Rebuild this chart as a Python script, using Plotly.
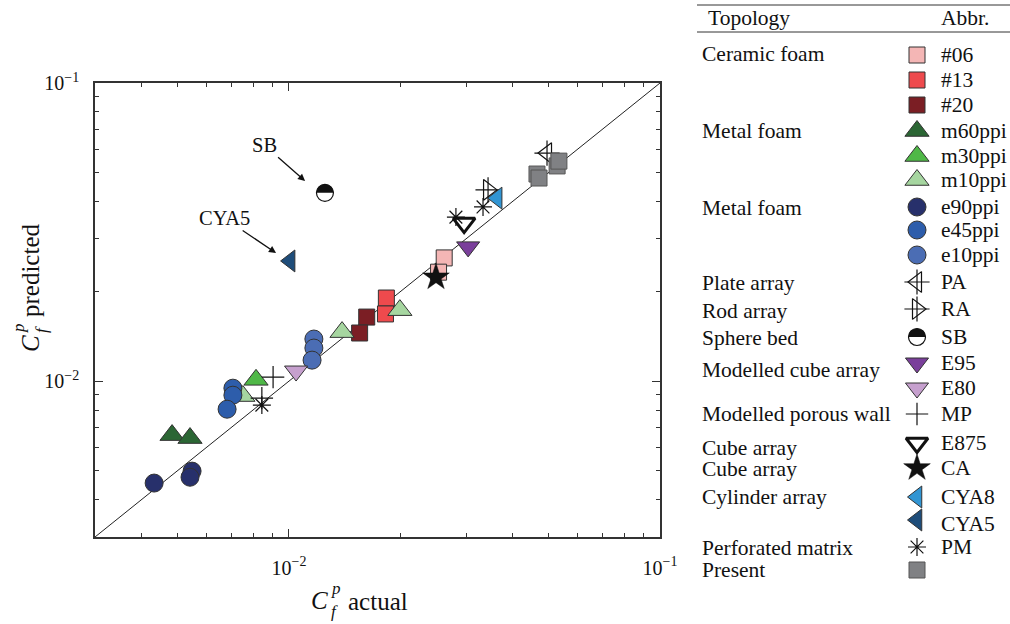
import math
import plotly.graph_objects as go

W, H = 1010, 624
FONT = "Liberation Serif"

# C_f^p actual (x) and predicted (y)
c06_x = [0.0262, 0.0253]
c06_y = [0.0259, 0.0232]
c13_x = [0.0183, 0.0182]
c13_y = [0.0190, 0.0168]
c20_x = [0.0162, 0.0155]
c20_y = [0.0164, 0.0145]
m60_x = [0.00484, 0.00541]
m60_y = [0.00659, 0.00644]
m30_x = [0.00815]
m30_y = [0.0101]
m10_x = [0.0199, 0.0139, 0.00751]
m10_y = [0.0173, 0.0146, 0.00891]
e90_x = [0.00433, 0.00548, 0.00541]
e90_y = [0.00455, 0.00499, 0.00476]
e45_x = [0.00706, 0.00706, 0.00681]
e45_y = [0.00947, 0.00897, 0.00805]
e10_x = [0.01167, 0.01167, 0.01154]
e10_y = [0.01384, 0.01291, 0.01176]
pa_x = [0.0496]
pa_y = [0.0582]
ra_x = [0.0344]
ra_y = [0.0438]
sb_x = [0.0125]
sb_y = [0.0428]
e95_x = [0.0304]
e95_y = [0.0282]
e80_x = [0.01045]
e80_y = [0.01081]
mp_x = [0.00906, 0.00845]
mp_y = [0.01031, 0.00877]
e875_x = [0.02965]
e875_y = [0.0339]
ca_x = [0.0249]
ca_y = [0.0223]
cya8_x = [0.0364]
cya8_y = [0.0411]
cya5_x = [0.01007]
cya5_y = [0.0253]
pm_x = [0.00845, 0.02818, 0.03334]
pm_y = [0.00831, 0.0355, 0.0384]
present_x = [0.0466, 0.0472, 0.0528, 0.0534]
present_y = [0.0495, 0.0480, 0.0527, 0.0547]

ax_range = [0.003, 0.1]
major_ticks = [0.01, 0.1]
major_text = ["10<sup>\u22122</sup>", "10<sup>\u22121</sup>"]
minor_ticks = [k * 10.0 ** e for e in (-3, -2) for k in range(2, 10)]

edge = dict(color="#333333", width=1)


def mk(symbol, color, size, line=None):
    return dict(symbol=symbol, color=color, size=size, line=line or edge)


open_line = dict(color="#111111", width=1.2)
styles = {
    "#06": [mk("square", "#f4b6b5", 16)],
    "#13": [mk("square", "#ee4a4d", 16)],
    "#20": [mk("square", "#7b1e24", 16)],
    "m60ppi": [mk("triangle-up", "#2b6634", 21)],
    "m30ppi": [mk("triangle-up", "#4fb847", 21)],
    "m10ppi": [mk("triangle-up", "#a6d6a0", 21)],
    "e90ppi": [mk("circle", "#27306b", 18)],
    "e45ppi": [mk("circle", "#2d5dab", 18)],
    "e10ppi": [mk("circle", "#4b6db4", 18)],
    "PA": [mk("triangle-left-open", "#111111", 18, open_line),
           mk("cross-thin-open", "#111111", 18, open_line)],
    "RA": [mk("triangle-right-open", "#111111", 18, open_line),
           mk("cross-thin-open", "#111111", 18, open_line)],
    "SB": [mk("circle", "white", 17, dict(color="#111111", width=1.2))],
    "E95": [mk("triangle-down", "#7a3f9b", 20)],
    "E80": [mk("triangle-down", "#c6a0ce", 20)],
    "MP": [mk("cross-thin-open", "#111111", 16, open_line)],
    "E875": [mk("triangle-down-open", "#111111", 19, dict(color="#111111", width=3))],
    "CA": [mk("star", "#111111", 20, dict(color="#111111", width=0.5))],
    "CYA8": [mk("triangle-left", "#3195d3", 19)],
    "CYA5": [mk("triangle-left", "#1e4d7a", 19)],
    "PM": [mk("asterisk-open", "#111111", 15, open_line)],
    "Present": [mk("square", "#808184", 16, dict(color="#555555", width=1))],
}

series = [
    ("#06", c06_x, c06_y), ("#13", c13_x, c13_y), ("#20", c20_x, c20_y),
    ("m60ppi", m60_x, m60_y), ("m30ppi", m30_x, m30_y), ("m10ppi", m10_x, m10_y),
    ("e90ppi", e90_x, e90_y), ("e45ppi", e45_x, e45_y), ("e10ppi", e10_x, e10_y),
    ("PA", pa_x, pa_y), ("RA", ra_x, ra_y), ("SB", sb_x, sb_y),
    ("E95", e95_x, e95_y), ("E80", e80_x, e80_y), ("MP", mp_x, mp_y),
    ("E875", e875_x, e875_y), ("CA", ca_x, ca_y), ("CYA8", cya8_x, cya8_y),
    ("CYA5", cya5_x, cya5_y), ("PM", pm_x, pm_y), ("Present", present_x, present_y),
]

# legend table (pixel rows)
legend_rows = {
    "#06": 55, "#13": 80, "#20": 105, "m60ppi": 131, "m30ppi": 156,
    "m10ppi": 180, "e90ppi": 207, "e45ppi": 230, "e10ppi": 255, "PA": 282,
    "RA": 309, "SB": 337, "E95": 363, "E80": 388, "MP": 414, "E875": 443,
    "CA": 468, "CYA8": 497, "CYA5": 520, "PM": 547, "Present": 570,
}
abbr_text_y = {"CYA5": 524}
topologies = [
    ("Ceramic foam", 54), ("Metal foam", 131), ("Metal foam", 208),
    ("Plate array", 283), ("Rod array", 311), ("Sphere bed", 338),
    ("Modelled cube array", 370), ("Modelled porous wall", 414),
    ("Cube array", 448), ("Cube array", 469), ("Cylinder array", 497),
    ("Perforated matrix", 548), ("Present", 570),
]

fig = go.Figure()

# 1:1 line
fig.add_trace(go.Scatter(x=ax_range, y=ax_range, mode="lines",
                         line=dict(color="#222222", width=1), hoverinfo="skip"))

sym_x = 917
for name, xs, ys in series:
    for st in styles[name]:
        fig.add_trace(go.Scatter(x=xs, y=ys, mode="markers", marker=st, name=name))
        fig.add_trace(go.Scatter(x=[sym_x], y=[legend_rows[name]], mode="markers",
                                 marker=st, xaxis="x2", yaxis="y2", cliponaxis=False))


# half-filled sphere bed symbol (top half black)
def half_top(r):
    k = 0.5523 * r
    return (f"M {-r},0 C {-r},{k} {-k},{r} 0,{r} C {k},{r} {r},{k} {r},0 Z")


shapes = [
    dict(type="path", xref="x", yref="y", xsizemode="pixel", ysizemode="pixel",
         xanchor=sb_x[0], yanchor=sb_y[0], path=half_top(8.5),
         fillcolor="#111111", line=dict(width=0)),
    dict(type="path", xref="x2", yref="y2", xsizemode="pixel", ysizemode="pixel",
         xanchor=sym_x, yanchor=legend_rows["SB"], path=half_top(8.5),
         fillcolor="#111111", line=dict(width=0)),
    dict(type="line", xref="x2", yref="y2", x0=697, x1=1010, y0=5, y1=5,
         line=dict(color="#333333", width=1)),
    dict(type="line", xref="x2", yref="y2", x0=697, x1=1010, y0=32, y1=32,
         line=dict(color="#333333", width=1)),
]

tf = dict(family=FONT, size=21.5, color="#111111")
ann = [
    dict(x=706, y=18, text="Topology", xanchor="left"),
    dict(x=991, y=18, text="Abbr.", xanchor="right"),
]
for label, yy in topologies:
    ann.append(dict(x=700, y=yy, text=label, xanchor="left"))
for name, _, _ in series:
    if name == "Present":
        continue
    ann.append(dict(x=939, y=abbr_text_y.get(name, legend_rows[name]), text=name,
                    xanchor="left"))

tfont = dict(family=FONT, size=25, color="#111111")
sfont = dict(family=FONT, size=17, color="#111111")
title_parts = [
    dict(x=319, y=600, text="<i>C</i>", font=tfont),
    dict(x=336, y=588, text="<i>p</i>", font=sfont),
    dict(x=334, y=611, text="<i>f</i>", font=sfont),
    dict(x=346, y=601, text="actual", font=tfont, xanchor="left"),
    dict(x=30, y=344, text="<i>C</i>", font=tfont, textangle=-90),
    dict(x=18, y=328, text="<i>p</i>", font=sfont, textangle=-90),
    dict(x=41, y=330, text="<i>f</i>", font=sfont, textangle=-90),
    dict(x=30, y=319, text="predicted", font=tfont, textangle=-90, yanchor="bottom"),
]
annotations = []
for a in ann:
    a.update(xref="x2", yref="y2", showarrow=False, font=tf)
    annotations.append(a)
for a in title_parts:
    a.update(xref="x2", yref="y2", showarrow=False)
    annotations.append(a)

# arrows pointing at the outliers (annotation coords on log axes are log10)
for label, px, py, dx, dy in [("SB", 0.01105, 0.0469, -41, -36),
                              ("CYA5", 0.00923, 0.0269, -52, -35)]:
    annotations.append(dict(x=math.log10(px), y=math.log10(py), xref="x", yref="y",
                            text=label, showarrow=True, ax=dx, ay=dy,
                            arrowhead=2, arrowsize=1.1, arrowwidth=1.3,
                            arrowcolor="#111111", font=dict(family=FONT, size=20.5,
                                                            color="#111111")))

axis_common = dict(
    type="log", range=[math.log10(ax_range[0]), math.log10(ax_range[1])],
    showgrid=False, zeroline=False, showline=True, linecolor="#333333",
    linewidth=1.5, mirror="ticks", ticks="inside", ticklen=8, tickwidth=1.3,
    tickcolor="#333333", tickvals=major_ticks, ticktext=major_text,
    tickfont=dict(family=FONT, size=20, color="#111111"), automargin=False,
    minor=dict(ticks="inside", ticklen=4.5, tickwidth=1.2, tickcolor="#333333",
               tickvals=minor_ticks, showgrid=False),
)

fig.update_layout(
    width=W, height=H, margin=dict(l=0, r=0, t=0, b=0, pad=0),
    paper_bgcolor="white", plot_bgcolor="rgba(0,0,0,0)", showlegend=False,
    font=dict(family=FONT, color="#111111"),
    xaxis=dict(domain=[95 / W, 660 / W], anchor="y", ticklabelstandoff=12,
               **axis_common),
    yaxis=dict(domain=[1 - 537 / H, 1 - 83 / H], anchor="x", ticklabelstandoff=10,
               **axis_common),
    xaxis2=dict(domain=[0, 1], range=[0, W], anchor="y2", visible=False,
                fixedrange=True, automargin=False),
    yaxis2=dict(domain=[0, 1], range=[H, 0], anchor="x2", visible=False,
                fixedrange=True, automargin=False),
    shapes=shapes,
    annotations=annotations,
)

fig.write_html("out.html", config={"displayModeBar": False},
               post_script="document.body.style.margin='0';")
